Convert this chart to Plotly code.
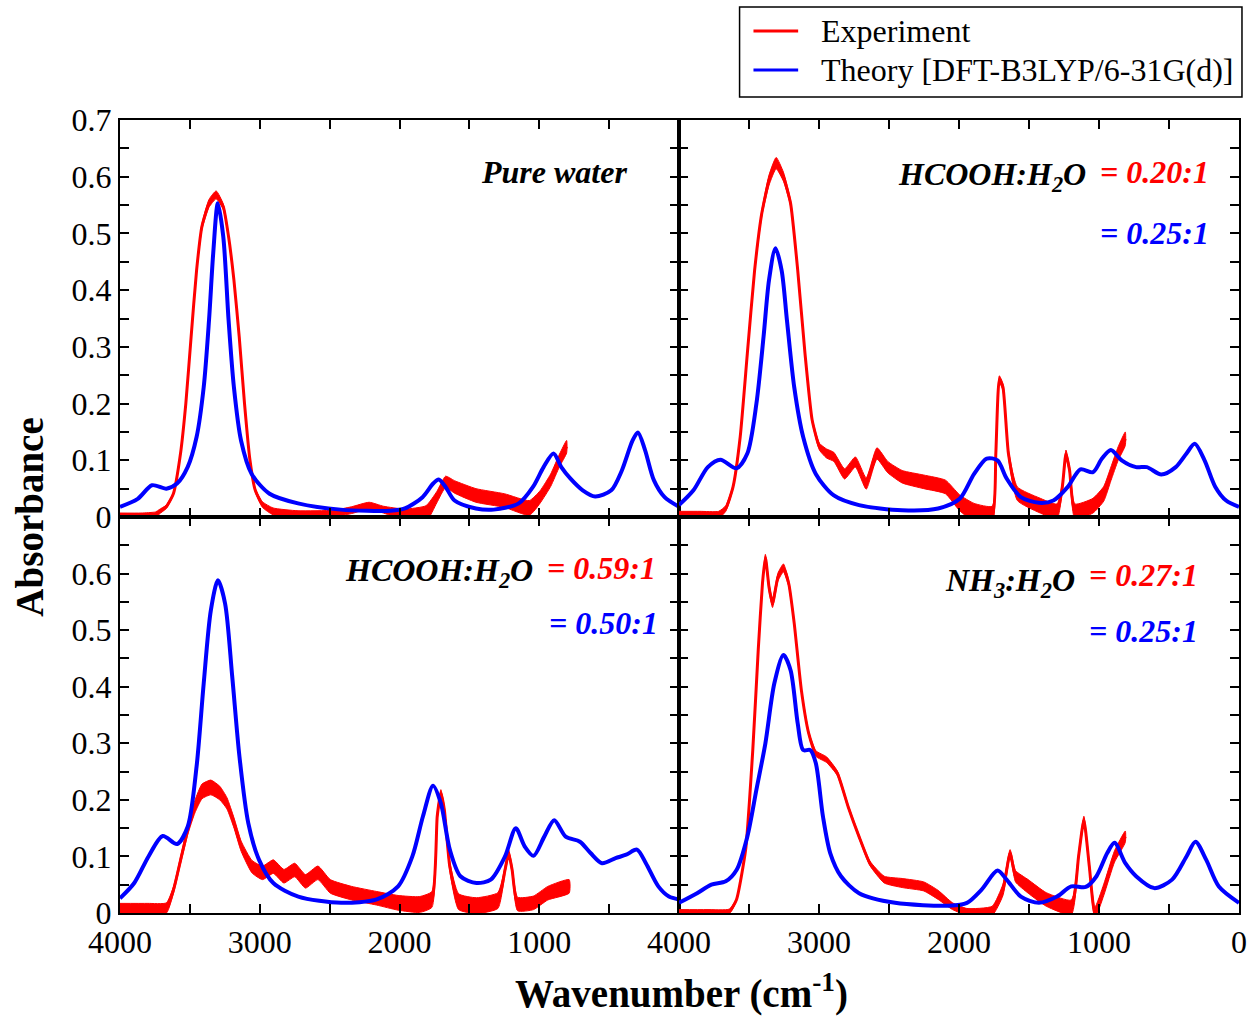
import plotly.graph_objects as go
from plotly.subplots import make_subplots

# ---------------- data ----------------
# Wavenumbers in cm^-1, absorbance values, and half-width of the measured noise band.

# Pure water
th_wn_water = [4000, 3873, 3771, 3669, 3592, 3516, 3452, 3401, 3363, 3333, 3300, 3261, 3223, 3185,
               3134, 3058, 2930, 2726, 2421, 2064, 1962, 1835, 1759, 1720, 1670, 1606, 1453, 1326,
               1147, 1045, 969, 898, 842, 778, 689, 600, 485, 409, 332, 294, 243, 180, 103, 0]
th_abs_water = [0.018, 0.032, 0.056, 0.050, 0.059, 0.088, 0.141, 0.229, 0.347, 0.465, 0.553, 0.494,
                0.347, 0.229, 0.135, 0.076, 0.041, 0.024, 0.013, 0.011, 0.015, 0.035, 0.059, 0.066,
                0.053, 0.029, 0.015, 0.013, 0.024, 0.053, 0.088, 0.112, 0.088, 0.068, 0.047, 0.036,
                0.047, 0.082, 0.135, 0.149, 0.118, 0.065, 0.035, 0.018]
ex_wn_water = [4000, 3850, 3745, 3720, 3669, 3618, 3567, 3529, 3491, 3452, 3414, 3363, 3312, 3261,
               3223, 3185, 3147, 3109, 3070, 3032, 2981, 2905, 2726, 2472, 2344, 2217, 2115, 1962,
               1810, 1733, 1670, 1606, 1453, 1249, 1071, 995, 918, 855, 804]
ex_abs_water = [0.002, 0.002, 0.004, 0.009, 0.018, 0.041, 0.112, 0.200, 0.318, 0.435, 0.512, 0.553,
                0.568, 0.547, 0.494, 0.418, 0.318, 0.200, 0.100, 0.047, 0.022, 0.010, 0.005, 0.006,
                0.012, 0.020, 0.013, 0.004, 0.006, 0.035, 0.062, 0.053, 0.038, 0.029, 0.016, 0.035,
                0.065, 0.100, 0.124]
ex_noise_water = [0.005, 0.005, 0.005, 0.004, 0.003, 0.002, 0.002, 0.002, 0.002, 0.003, 0.005, 0.007,
                  0.007, 0.005, 0.003, 0.002, 0.002, 0.002, 0.002, 0.003, 0.005, 0.006, 0.006, 0.006,
                  0.006, 0.006, 0.006, 0.010, 0.014, 0.010, 0.010, 0.011, 0.012, 0.012, 0.013, 0.011,
                  0.011, 0.011, 0.011]

# HCOOH:H2O, experiment 0.20:1, theory 0.25:1
th_wn_fa20 = [4000, 3897, 3794, 3704, 3589, 3512, 3447, 3396, 3357, 3311, 3267, 3229, 3177, 3113,
              3023, 2894, 2714, 2406, 2149, 1995, 1892, 1802, 1725, 1660, 1558, 1429, 1326, 1223,
              1133, 1043, 979, 915, 838, 735, 658, 555, 452, 375, 316, 246, 169, 92, 0]
th_abs_fa20 = [0.021, 0.047, 0.088, 0.101, 0.086, 0.112, 0.200, 0.318, 0.418, 0.474, 0.435, 0.347,
               0.229, 0.141, 0.076, 0.038, 0.021, 0.012, 0.015, 0.032, 0.076, 0.103, 0.100, 0.068,
               0.035, 0.025, 0.029, 0.053, 0.084, 0.079, 0.103, 0.118, 0.100, 0.088, 0.088, 0.075,
               0.088, 0.112, 0.129, 0.100, 0.053, 0.029, 0.018]
ex_wn_fa20 = [4000, 3850, 3717, 3666, 3614, 3563, 3512, 3460, 3409, 3357, 3306, 3254, 3203, 3152,
              3100, 3049, 2997, 2946, 2894, 2817, 2740, 2663, 2586, 2509, 2406, 2252, 2097, 1995,
              1892, 1763, 1737, 1712, 1686, 1647, 1583, 1429, 1300, 1262, 1236, 1210, 1172, 1043,
              966, 915, 863, 812]
ex_abs_fa20 = [0.004, 0.004, 0.004, 0.015, 0.053, 0.141, 0.288, 0.435, 0.535, 0.594, 0.624, 0.600,
               0.553, 0.435, 0.288, 0.171, 0.124, 0.112, 0.106, 0.076, 0.097, 0.059, 0.112, 0.088,
               0.071, 0.062, 0.053, 0.025, 0.008, 0.004, 0.112, 0.243, 0.229, 0.112, 0.041, 0.021,
               0.010, 0.053, 0.112, 0.082, 0.010, 0.020, 0.041, 0.076, 0.112, 0.138]
ex_noise_fa20 = [0.006, 0.006, 0.006, 0.005, 0.003, 0.002, 0.002, 0.003, 0.005, 0.009, 0.010, 0.008,
                 0.005, 0.003, 0.002, 0.003, 0.006, 0.008, 0.008, 0.009, 0.009, 0.010, 0.010, 0.010,
                 0.011, 0.012, 0.012, 0.014, 0.016, 0.015, 0.006, 0.006, 0.006, 0.006, 0.012, 0.013,
                 0.013, 0.006, 0.006, 0.006, 0.013, 0.013, 0.013, 0.012, 0.012, 0.012]

# HCOOH:H2O, experiment 0.59:1, theory 0.50:1
th_wn_fa59 = [4000, 3898, 3796, 3694, 3592, 3515, 3452, 3401, 3350, 3299, 3248, 3197, 3145, 3082,
              3005, 2903, 2724, 2418, 2163, 2010, 1908, 1832, 1760, 1704, 1640, 1564, 1449, 1347,
              1245, 1168, 1105, 1041, 964, 893, 811, 709, 633, 551, 454, 378, 301, 237, 148, 72, 0]
th_abs_fa59 = [0.026, 0.053, 0.100, 0.136, 0.122, 0.153, 0.259, 0.406, 0.535, 0.588, 0.547, 0.418,
               0.276, 0.159, 0.094, 0.053, 0.029, 0.018, 0.024, 0.047, 0.100, 0.171, 0.225, 0.194,
               0.112, 0.065, 0.053, 0.059, 0.100, 0.150, 0.118, 0.101, 0.135, 0.164, 0.135, 0.126,
               0.106, 0.088, 0.097, 0.103, 0.112, 0.088, 0.047, 0.029, 0.024]
ex_wn_fa59 = [4000, 3800, 3668, 3617, 3566, 3515, 3464, 3413, 3350, 3286, 3235, 3184, 3133, 3056,
              2980, 2903, 2827, 2750, 2673, 2584, 2495, 2342, 2163, 2010, 1857, 1768, 1730, 1704,
              1679, 1640, 1577, 1449, 1296, 1245, 1219, 1194, 1155, 1041, 939, 786]
ex_abs_fa59 = [0.008, 0.008, 0.009, 0.041, 0.094, 0.147, 0.188, 0.215, 0.222, 0.212, 0.194, 0.159,
               0.118, 0.082, 0.071, 0.082, 0.065, 0.076, 0.056, 0.071, 0.047, 0.035, 0.026, 0.018,
               0.015, 0.024, 0.171, 0.212, 0.182, 0.082, 0.020, 0.013, 0.022, 0.076, 0.106, 0.076,
               0.016, 0.018, 0.035, 0.047]
ex_noise_fa59 = [0.009, 0.009, 0.009, 0.006, 0.006, 0.008, 0.011, 0.013, 0.013, 0.012, 0.010, 0.009,
                 0.009, 0.011, 0.012, 0.012, 0.012, 0.012, 0.012, 0.012, 0.012, 0.012, 0.012, 0.013,
                 0.014, 0.014, 0.006, 0.006, 0.006, 0.008, 0.014, 0.014, 0.014, 0.006, 0.006, 0.006,
                 0.012, 0.012, 0.012, 0.012]

# NH3:H2O, experiment 0.27:1, theory 0.25:1
th_wn_nh3 = [4000, 3871, 3769, 3666, 3589, 3512, 3447, 3383, 3319, 3254, 3203, 3152, 3113, 3062,
             3023, 2972, 2920, 2843, 2714, 2457, 2071, 1943, 1840, 1725, 1660, 1558, 1429, 1300,
             1198, 1095, 1018, 941, 889, 812, 735, 606, 478, 375, 311, 234, 144, 0]
th_abs_nh3 = [0.018, 0.035, 0.050, 0.056, 0.076, 0.135, 0.218, 0.300, 0.406, 0.456, 0.429, 0.335,
              0.288, 0.288, 0.265, 0.171, 0.106, 0.065, 0.035, 0.018, 0.013, 0.018, 0.041, 0.075,
              0.059, 0.029, 0.018, 0.029, 0.047, 0.046, 0.065, 0.106, 0.124, 0.088, 0.065, 0.044,
              0.059, 0.100, 0.126, 0.094, 0.047, 0.018]
ex_wn_nh3 = [4000, 3800, 3640, 3589, 3524, 3473, 3434, 3404, 3383, 3357, 3332, 3293, 3254, 3216,
             3177, 3126, 3074, 3023, 2946, 2869, 2792, 2714, 2637, 2534, 2406, 2252, 2149, 2046,
             1943, 1763, 1686, 1635, 1596, 1506, 1377, 1198, 1146, 1108, 1069, 1030, 966, 889, 812]
ex_abs_nh3 = [0.002, 0.002, 0.003, 0.024, 0.112, 0.288, 0.465, 0.582, 0.629, 0.576, 0.547, 0.594,
              0.610, 0.582, 0.512, 0.394, 0.318, 0.282, 0.271, 0.247, 0.188, 0.135, 0.088, 0.059,
              0.053, 0.047, 0.032, 0.012, 0.002, 0.004, 0.041, 0.106, 0.065, 0.047, 0.024, 0.010,
              0.100, 0.165, 0.082, 0.000, 0.041, 0.100, 0.135]
ex_noise_nh3 = [0.004, 0.004, 0.004, 0.002, 0.002, 0.002, 0.003, 0.005, 0.005, 0.007, 0.007, 0.007,
                0.007, 0.005, 0.003, 0.002, 0.003, 0.005, 0.005, 0.004, 0.003, 0.003, 0.004, 0.006,
                0.008, 0.008, 0.008, 0.006, 0.006, 0.008, 0.010, 0.006, 0.010, 0.012, 0.012, 0.013,
                0.006, 0.006, 0.006, 0.010, 0.010, 0.010, 0.010]

legend_names = ["Experiment", "Theory [DFT-B3LYP/6-31G(d)]"]

panels = [
    (1, 1, ex_wn_water, ex_abs_water, ex_noise_water, th_wn_water, th_abs_water),
    (1, 2, ex_wn_fa20, ex_abs_fa20, ex_noise_fa20, th_wn_fa20, th_abs_fa20),
    (2, 1, ex_wn_fa59, ex_abs_fa59, ex_noise_fa59, th_wn_fa59, th_abs_fa59),
    (2, 2, ex_wn_nh3, ex_abs_nh3, ex_noise_nh3, th_wn_nh3, th_abs_nh3),
]

RED = "#ff0000"
BLUE = "#0000ff"
FONT = "Liberation Serif"

fig = make_subplots(rows=2, cols=2, horizontal_spacing=0, vertical_spacing=0)

for i, (r, c, ewn, eab, enz, twn, tab) in enumerate(panels):
    # noisy envelope of the measured spectrum
    upper = [a + n for a, n in zip(eab, enz)]
    lower = [a - n for a, n in zip(eab, enz)]
    fig.add_trace(go.Scatter(x=ewn + ewn[::-1], y=upper + lower[::-1], mode="lines",
                             fill="toself", fillcolor=RED,
                             line=dict(color=RED, width=1, shape="spline", smoothing=0.5),
                             hoverinfo="skip", showlegend=False), row=r, col=c)
    fig.add_trace(go.Scatter(x=ewn, y=eab, mode="lines", name=legend_names[0],
                             line=dict(color=RED, width=3, shape="spline", smoothing=0.5),
                             showlegend=False), row=r, col=c)
    fig.add_trace(go.Scatter(x=twn, y=tab, mode="lines", name=legend_names[1],
                             line=dict(color=BLUE, width=4, shape="spline", smoothing=0.8),
                             showlegend=False), row=r, col=c)

W, H = 1259, 1016
ML, MR, MT, MB = 120, 12, 120, 103
PW, PH = W - ML - MR, H - MT - MB
xw = 563 / PW
yh = 396 / PH


def px(x):
    return (x - ML) / PW


def py(y):
    return (H - MB - y) / PH


axis_common = dict(showline=True, linecolor="black", linewidth=2, mirror="ticks",
                   ticks="inside", ticklen=9, tickwidth=1.5, tickcolor="black",
                   showgrid=False, zeroline=False,
                   tickfont=dict(family=FONT, size=32, color="black"))

for r in (1, 2):
    for c in (1, 2):
        xa = dict(axis_common)
        xa.update(range=[4000, 0], domain=[0, xw] if c == 1 else [xw, 1],
                  minor=dict(dtick=500, ticks="inside", ticklen=9, tickwidth=1.5, tickcolor="black"))
        if r == 2:
            vals = [4000, 3000, 2000, 1000] if c == 1 else [4000, 3000, 2000, 1000, 0]
            xa.update(tickvals=vals, ticktext=[str(v) for v in vals])
        else:
            xa.update(tickvals=[4000, 3000, 2000, 1000, 0], showticklabels=False)
        ya = dict(axis_common)
        ya.update(range=[0, 0.7], domain=[yh, 1] if r == 1 else [0, yh],
                  minor=dict(dtick=0.05, ticks="inside", ticklen=9, tickwidth=1.5, tickcolor="black"))
        yvals = [0, 0.1, 0.2, 0.3, 0.4, 0.5, 0.6, 0.7] if r == 1 else [0, 0.1, 0.2, 0.3, 0.4, 0.5, 0.6]
        ya.update(tickvals=yvals, ticktext=[("0" if v == 0 else f"{v:.1f}") for v in yvals],
                  showticklabels=(c == 1))
        fig.update_xaxes(xa, row=r, col=c)
        fig.update_yaxes(ya, row=r, col=c)

# panel captions
cap_font = dict(family=FONT, size=32, weight="bold", style="italic")
captions = [
    ("x", "y", 360, 0.608, "Pure water", "black", "right"),
    ("x2", "y2", 1078, 0.600, "HCOOH:H<sub>2</sub>O", "black", "right"),
    ("x2", "y2", 1007, 0.608, "= 0.20:1", RED, "left"),
    ("x2", "y2", 1007, 0.501, "= 0.25:1", BLUE, "left"),
    ("x3", "y3", 1032, 0.602, "HCOOH:H<sub>2</sub>O", "black", "right"),
    ("x3", "y3", 959, 0.610, "= 0.59:1", RED, "left"),
    ("x3", "y3", 945, 0.512, "= 0.50:1", BLUE, "left"),
    ("x4", "y4", 1160, 0.585, "NH<sub>3</sub>:H<sub>2</sub>O", "black", "right"),
    ("x4", "y4", 1085, 0.597, "= 0.27:1", RED, "left"),
    ("x4", "y4", 1085, 0.498, "= 0.25:1", BLUE, "left"),
]
for xr, yr, xv, yv, txt, col, anchor in captions:
    fig.add_annotation(xref=xr, yref=yr, x=xv, y=yv, text=txt, showarrow=False,
                       xanchor=anchor, yanchor="middle", font=dict(cap_font, color=col))

# axis titles
fig.add_annotation(xref="paper", yref="paper", x=px(28), y=yh, text="Absorbance",
                   textangle=-90, showarrow=False, xanchor="center", yanchor="middle",
                   font=dict(family=FONT, size=39, weight="bold", color="black"))
fig.add_annotation(xref="paper", yref="paper", x=px(686), y=py(992),
                   text="Wavenumber (cm<sup>-1</sup>)", showarrow=False,
                   xanchor="center", yanchor="middle",
                   font=dict(family=FONT, size=39, weight="bold", color="black"))

# legend box with line samples
fig.add_shape(type="rect", xref="paper", yref="paper", x0=px(744), x1=px(1250), y0=py(97), y1=py(7),
              line=dict(color="black", width=1.5), fillcolor="white")
for name, col, yy in [(legend_names[0], RED, 31), (legend_names[1], BLUE, 70)]:
    fig.add_shape(type="line", xref="paper", yref="paper", x0=px(758), x1=px(803), y0=py(yy), y1=py(yy),
                  line=dict(color=col, width=3))
    fig.add_annotation(xref="paper", yref="paper", x=px(824), y=py(yy), text=name, showarrow=False,
                       xanchor="left", yanchor="middle",
                       font=dict(family=FONT, size=32, color="black"))

fig.update_layout(
    width=W, height=H,
    margin=dict(l=ML, r=MR, t=MT, b=MB),
    paper_bgcolor="white", plot_bgcolor="white",
    font=dict(family=FONT, color="black"),
    showlegend=False,
)

fig.write_html("out.html")
